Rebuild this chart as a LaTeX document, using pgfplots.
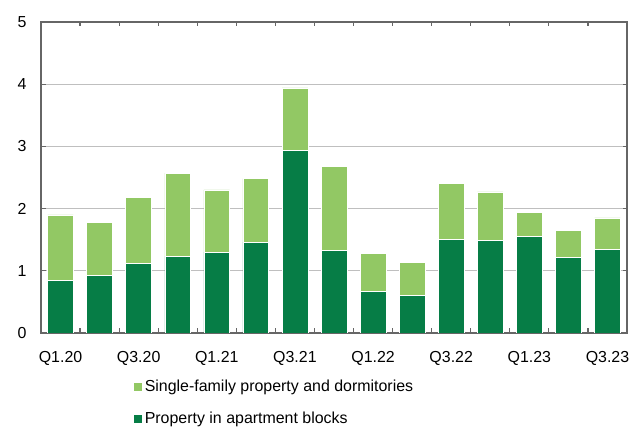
\documentclass[border=0pt]{standalone}
\usepackage{pgfplots}
\pgfplotsset{compat=1.18}
\usepackage{fontspec}
\setmainfont{Liberation Sans}
\definecolor{dark}{HTML}{067D46}
\definecolor{light}{HTML}{92C864}
\definecolor{frame}{HTML}{666666}
\definecolor{grid}{HTML}{D3D7DA}
\pgfplotsset{
  layers/barsbelow/.define layer set={axis background,axis grid,main,axis ticks,axis lines,axis tick labels,axis descriptions,axis foreground}{},
}
\begin{document}
\begin{tikzpicture}
\begin{axis}[
  set layers=barsbelow,
  scale only axis,
  width=586bp, height=311bp,
  ybar stacked,
  bar width=0.66,
  xmin=-0.5, xmax=14.5,
  ymin=0, ymax=5,
  ytick={0,1,2,3,4,5},
  xmajorgrids=false,
  ymajorgrids=true,
  major grid style={grid, line width=1pt},
  axis line style={frame, line width=1.4pt},
  tick align=inside,
  major tick length=4.5bp,
  xtick={0.5,1.5,2.5,3.5,4.5,5.5,6.5,7.5,8.5,9.5,10.5,11.5,12.5,13.5},
  xticklabels={},
  x tick style={draw=frame, line width=1.2pt},
  extra x ticks={0,2,4,6,8,10,12,14},
  extra x tick labels={Q1.20,Q3.20,Q1.21,Q3.21,Q1.22,Q3.22,Q1.23,Q3.23},
  extra x tick style={grid=none, xmajorgrids=false, major tick length=0pt,
    tick style={draw=none}},
  y tick style={draw=frame, line width=1.2pt},
  tick label style={font=\fontsize{16}{19}\selectfont},
  /pgf/number format/assume math mode=true,
  xticklabel style={yshift=-15bp},
  yticklabel style={xshift=-11bp},
  reverse legend,
  legend style={at={(0.157,-0.145)}, anchor=north west, draw=none, fill=none,
    font=\fontsize{16}{19}\selectfont, row sep=15bp, inner sep=0pt,
    legend cell align=left},
  legend image code/.code={\fill[#1] (0bp,-4.5bp) rectangle (9bp,4.5bp);},
]
\addplot[fill=dark, draw=white, line width=0.6pt] coordinates {
(0,0.85) (1,0.93) (2,1.115) (3,1.23) (4,1.30) (5,1.46) (6,2.93) (7,1.33)
(8,0.67) (9,0.61) (10,1.51) (11,1.49) (12,1.55) (13,1.22) (14,1.345)};
\addlegendentry{Property in apartment blocks}
\addplot[fill=light, draw=white, line width=0.6pt] coordinates {
(0,1.05) (1,0.85) (2,1.065) (3,1.34) (4,1.00) (5,1.02) (6,1.01) (7,1.35)
(8,0.605) (9,0.52) (10,0.89) (11,0.78) (12,0.385) (13,0.425) (14,0.505)};
\addlegendentry{Single-family property and dormitories}
\end{axis}
\pgfresetboundingbox
\path (-41bp,-95bp) rectangle (597bp,333bp);
\end{tikzpicture}
\end{document}
